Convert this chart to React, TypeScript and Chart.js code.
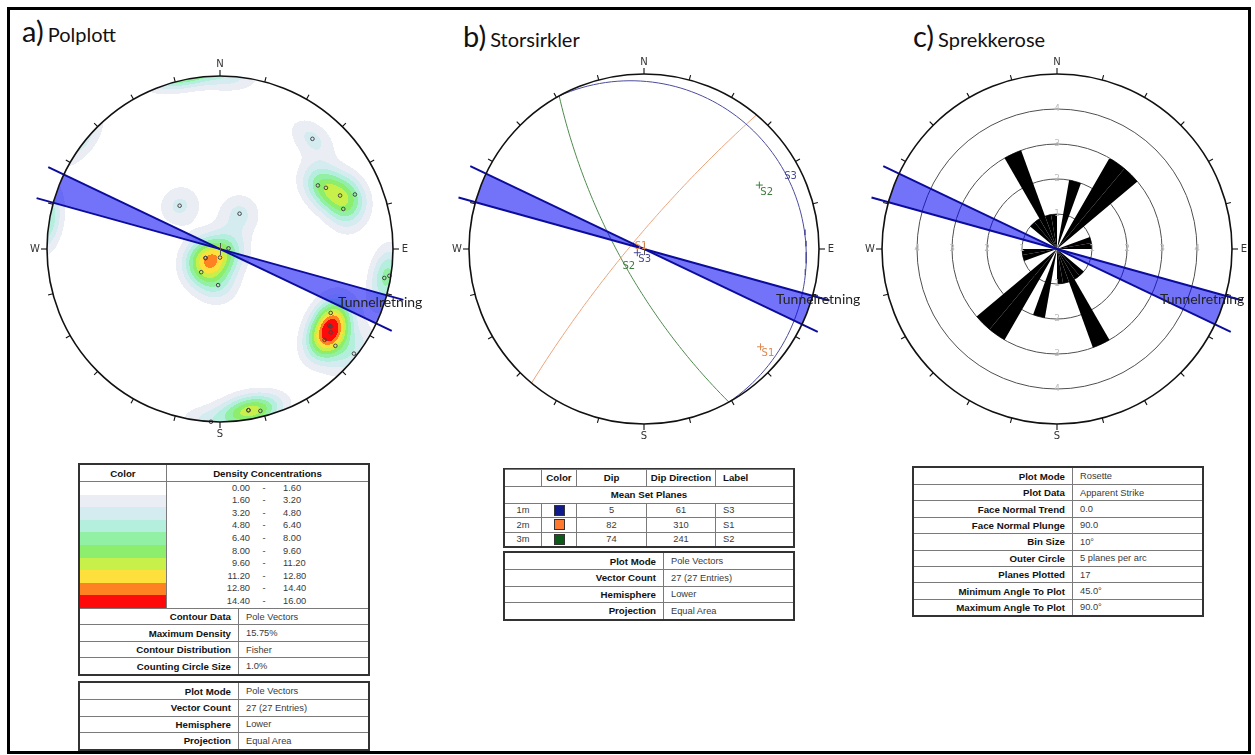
import React, { useEffect, useRef } from 'react';
import { Chart, registerables } from 'chart.js';

Chart.register(...registerables);

const DEG = Math.PI / 180;

// ================= DATA =================
// a) Pole vectors, lower hemisphere (trend / plunge in degrees) – 27 entries
const poleTrend = [40, 57, 60, 66, 68, 72, 317, 29, 86, 180, 238, 238, 219, 183, 100, 99, 120, 125, 131, 130, 128, 127, 125, 170, 166, 170, 183];
const polePlunge = [18, 33, 30, 25, 17, 26, 62, 71, 86, 86, 82, 82, 76, 73, 4, 1, 27, 23, 21, 14, 2, 21, 24, 6, 4, 6, 0];

// Density contour legend (%), ten bands
const densityBounds = [0, 1.6, 3.2, 4.8, 6.4, 8.0, 9.6, 11.2, 12.8, 14.4, 16.0];
const densityLabels = ['0.00', '1.60', '3.20', '4.80', '6.40', '8.00', '9.60', '11.20', '12.80', '14.40', '16.00'];
const densityColors = ['#ffffff', '#eaedf3', '#d4ecf0', '#b4efdd', '#92f0a4', '#8cee6c', '#c8f04a', '#fde03c', '#ff8222', '#ff0a0a'];
const fisherK = 70;
const kernelPeak = 3.6;

const contourInfo = [
  ['Contour Data', 'Pole Vectors'],
  ['Maximum Density', '15.75%'],
  ['Contour Distribution', 'Fisher'],
  ['Counting Circle Size', '1.0%'],
];
const plotInfo = [
  ['Plot Mode', 'Pole Vectors'],
  ['Vector Count', '27 (27 Entries)'],
  ['Hemisphere', 'Lower'],
  ['Projection', 'Equal Area'],
];

// b) Mean set planes
const setIds = ['1m', '2m', '3m'];
const setDip = [5, 82, 74];
const setDipDir = [61, 310, 241];
const setLabel = ['S3', 'S1', 'S2'];
const setSwatch = ['#0f1a8c', '#ff7a2e', '#0b5a18'];
const setLine = ['#4b4b9c', '#eca37a', '#4e8a4e'];
const setText = ['#4a4a96', '#e0884f', '#3d7d3d'];

// c) Rose diagram – apparent strike counts per 10° bin (0°–360°)
const roseBins = [0, 2, 0, 3, 3, 0, 0, 1, 1, 0, 0, 0, 0, 1, 1, 3, 1, 1, 0, 2, 0, 3, 3, 0, 0, 1, 1, 0, 0, 0, 0, 1, 1, 3, 1, 1];
const roseBinLabels = ['0', '10', '20', '30', '40', '50', '60', '70', '80', '90', '100', '110', '120', '130', '140', '150', '160', '170',
  '180', '190', '200', '210', '220', '230', '240', '250', '260', '270', '280', '290', '300', '310', '320', '330', '340', '350'];
const roseRings = [1, 2, 3, 4];
const roseOuter = 5;
const roseInfo = [
  ['Plot Mode', 'Rosette'],
  ['Plot Data', 'Apparent Strike'],
  ['Face Normal Trend', '0.0'],
  ['Face Normal Plunge', '90.0'],
  ['Bin Size', '10°'],
  ['Outer Circle', '5 planes per arc'],
  ['Planes Plotted', '17'],
  ['Minimum Angle To Plot', '45.0°'],
  ['Maximum Angle To Plot', '90.0°'],
];

// Tunnel direction wedge (azimuths, degrees)
const tunnelAz = [105.5, 115.5];
const cardinals = ['N', 'E', 'S', 'W'];
const tickStep = 15;

// ================= HELPERS =================
function eqArea(trend: number, plunge: number) {
  const r = Math.SQRT2 * Math.sin(((90 - plunge) * DEG) / 2);
  return { x: r * Math.sin(trend * DEG), y: r * Math.cos(trend * DEG) };
}
function eqAngle(trend: number, plunge: number) {
  const r = Math.tan(((90 - plunge) * DEG) / 2);
  return { x: r * Math.sin(trend * DEG), y: r * Math.cos(trend * DEG) };
}
function lineVec(trend: number, plunge: number) {
  return [Math.cos(plunge * DEG) * Math.sin(trend * DEG), Math.cos(plunge * DEG) * Math.cos(trend * DEG), Math.sin(plunge * DEG)];
}
function greatCircle(dip: number, dipDir: number) {
  const sv = [Math.sin((dipDir - 90) * DEG), Math.cos((dipDir - 90) * DEG), 0];
  const dv = lineVec(dipDir, dip);
  const pts: { x: number; y: number }[] = [];
  for (let a = 0; a <= 180; a += 2) {
    const c = Math.cos(a * DEG), s = Math.sin(a * DEG);
    const v = [c * sv[0] + s * dv[0], c * sv[1] + s * dv[1], c * sv[2] + s * dv[2]];
    const pl = Math.asin(Math.max(-1, Math.min(1, v[2]))) / DEG;
    const tr = Math.atan2(v[0], v[1]) / DEG;
    pts.push(eqAngle(tr, pl));
  }
  return pts;
}
function hexRgb(h: string) {
  return [parseInt(h.slice(1, 3), 16), parseInt(h.slice(3, 5), 16), parseInt(h.slice(5, 7), 16)];
}

function geom(chart: any) {
  if (chart.scales.r) {
    const s = chart.scales.r;
    return { cx: s.xCenter, cy: s.yCenter, R: s.getDistanceFromCenterForValue(roseOuter) };
  }
  const x = chart.scales.x, y = chart.scales.y;
  const cx = x.getPixelForValue(0), cy = y.getPixelForValue(0);
  return { cx, cy, R: x.getPixelForValue(1) - cx };
}

function drawFrame(ctx: CanvasRenderingContext2D, cx: number, cy: number, R: number) {
  ctx.save();
  ctx.strokeStyle = '#111';
  ctx.lineWidth = 1.6;
  ctx.beginPath();
  ctx.arc(cx, cy, R, 0, Math.PI * 2);
  ctx.stroke();
  ctx.lineWidth = 1.1;
  for (let a = 0; a < 360; a += tickStep) {
    const s = Math.sin(a * DEG), c = Math.cos(a * DEG);
    const len = a % 90 === 0 ? 6 : 5;
    ctx.beginPath();
    ctx.moveTo(cx + s * R, cy - c * R);
    ctx.lineTo(cx + s * (R + len), cy - c * (R + len));
    ctx.stroke();
  }
  ctx.fillStyle = '#333';
  ctx.font = '10px "DejaVu Sans", sans-serif';
  ctx.textAlign = 'center';
  ctx.textBaseline = 'middle';
  cardinals.forEach((lab, i) => {
    const a = i * 90 * DEG;
    const d = R + 12;
    ctx.fillText(lab, cx + Math.sin(a) * d, cy - Math.cos(a) * d + 0.5);
  });
  ctx.restore();
}

function drawWedge(ctx: CanvasRenderingContext2D, cx: number, cy: number, R: number, lx: number, ly: number) {
  ctx.save();
  ctx.fillStyle = 'rgba(0,0,245,0.55)';
  for (const base of [0, 180]) {
    ctx.beginPath();
    ctx.moveTo(cx, cy);
    ctx.arc(cx, cy, R, (tunnelAz[0] + base - 90) * DEG, (tunnelAz[1] + base - 90) * DEG);
    ctx.closePath();
    ctx.fill();
  }
  ctx.strokeStyle = '#0c0c9c';
  ctx.lineWidth = 2;
  const L = R * 1.1;
  for (const az of tunnelAz) {
    const s = Math.sin(az * DEG), c = Math.cos(az * DEG);
    ctx.beginPath();
    ctx.moveTo(cx - s * L, cy + c * L);
    ctx.lineTo(cx + s * L, cy - c * L);
    ctx.stroke();
  }
  ctx.fillStyle = '#222';
  ctx.font = '14px Lato, "Open Sans", sans-serif';
  ctx.textAlign = 'left';
  ctx.textBaseline = 'middle';
  ctx.fillText('Tunnelretning', cx + lx, cy + ly);
  ctx.restore();
}

function centerMark(ctx: CanvasRenderingContext2D, cx: number, cy: number) {
  ctx.save();
  ctx.strokeStyle = '#555';
  ctx.lineWidth = 1;
  ctx.beginPath();
  ctx.moveTo(cx + 0.5, cy - 6);
  ctx.lineTo(cx + 0.5, cy + 6);
  ctx.stroke();
  ctx.restore();
}

// ================= PLUGINS =================
const densityPlugin = {
  id: 'density',
  beforeDatasetsDraw(chart: any) {
    const { ctx } = chart;
    const { cx, cy, R } = geom(chart);
    const vecs = poleTrend.map((t, i) => lineVec(t, polePlunge[i]));
    const size = Math.ceil(2 * R) + 4;
    const x0 = Math.floor(cx - R) - 2, y0 = Math.floor(cy - R) - 2;
    const off = document.createElement('canvas');
    off.width = size;
    off.height = size;
    const octx = off.getContext('2d')!;
    const img = octx.createImageData(size, size);
    const rgb = densityColors.map(hexRgb);
    for (let j = 0; j < size; j++) {
      for (let i = 0; i < size; i++) {
        const X = (x0 + i + 0.5 - cx) / R, Y = (cy - (y0 + j + 0.5)) / R;
        const r = Math.hypot(X, Y);
        if (r > 1) continue;
        const th = 2 * Math.asin(r / Math.SQRT2);
        const tr = Math.atan2(X, Y);
        const v0 = Math.sin(th) * Math.sin(tr), v1 = Math.sin(th) * Math.cos(tr), v2 = Math.cos(th);
        let s = 0;
        for (const p of vecs) {
          const d = Math.abs(v0 * p[0] + v1 * p[1] + v2 * p[2]);
          s += Math.exp(fisherK * (d - 1));
        }
        const dens = s * kernelPeak;
        let b = 0;
        while (b < densityBounds.length - 2 && dens >= densityBounds[b + 1]) b++;
        if (b === 0) continue;
        const k = (j * size + i) * 4;
        img.data[k] = rgb[b][0];
        img.data[k + 1] = rgb[b][1];
        img.data[k + 2] = rgb[b][2];
        img.data[k + 3] = 255;
      }
    }
    octx.putImageData(img, 0, 0);
    ctx.drawImage(off, x0, y0);
  },
};

function overlayPlugin(label: [number, number], mark: boolean) {
  return {
    id: 'overlay',
    afterDatasetsDraw(chart: any) {
      const { ctx } = chart;
      const { cx, cy, R } = geom(chart);
      if (chart.scales.r) {
        const s = chart.scales.r;
        ctx.save();
        ctx.fillStyle = '#bdbdbd';
        ctx.font = '9px "DejaVu Sans", sans-serif';
        ctx.textAlign = 'center';
        ctx.textBaseline = 'middle';
        for (const v of roseRings) {
          const d = s.getDistanceFromCenterForValue(v);
          ctx.fillText(String(v), cx, cy - d);
          ctx.fillText(String(v), cx, cy + d);
          ctx.fillText(String(v), cx + d, cy);
          ctx.fillText(String(v), cx - d, cy);
        }
        ctx.restore();
      }
      drawWedge(ctx, cx, cy, R, label[0], label[1]);
      drawFrame(ctx, cx, cy, R);
      if (mark) centerMark(ctx, cx, cy);
    },
  };
}

const setLabelPlugin = {
  id: 'setLabels',
  afterDraw(chart: any) {
    const { ctx } = chart;
    const xs = chart.scales.x, ys = chart.scales.y;
    ctx.save();
    ctx.font = '10px "DejaVu Sans", sans-serif';
    ctx.textAlign = 'left';
    ctx.textBaseline = 'top';
    setDip.forEach((dip, i) => {
      const pole = eqAngle(setDipDir[i] + 180, 90 - dip);
      const dp = eqAngle(setDipDir[i], dip);
      ctx.fillStyle = setText[i];
      ctx.fillText(setLabel[i], xs.getPixelForValue(pole.x) + 1, ys.getPixelForValue(pole.y) + 2);
      ctx.fillText(setLabel[i], xs.getPixelForValue(dp.x), ys.getPixelForValue(dp.y));
    });
    ctx.restore();
  },
};

// ================= CHART CONFIGS =================
const CW = 470, CH = 430, OFF = 215;

function baseOptions(R: number) {
  return {
    responsive: false,
    animation: false,
    devicePixelRatio: 1,
    events: [],
    layout: { padding: { left: OFF - R, right: CW - OFF - R, top: OFF - R, bottom: CH - OFF - R } },
    plugins: { legend: { display: false }, tooltip: { enabled: false } },
  };
}
const unitScales = {
  x: { type: 'linear', min: -1, max: 1, display: false },
  y: { type: 'linear', min: -1, max: 1, display: false },
};

function configA(R: number) {
  return {
    type: 'scatter',
    data: {
      datasets: [{
        data: poleTrend.map((t, i) => eqArea(t, polePlunge[i])),
        pointRadius: 1.8,
        pointBorderWidth: 1,
        pointBorderColor: '#444',
        pointBackgroundColor: 'rgba(255,255,255,0)',
        clip: false,
      }],
    },
    options: { ...baseOptions(R), scales: unitScales },
    plugins: [densityPlugin, overlayPlugin([118, 53], true)],
  };
}

function configB(R: number) {
  return {
    type: 'scatter',
    data: {
      datasets: [
        ...setDip.map((d, i) => ({
          data: greatCircle(d, setDipDir[i]),
          showLine: true,
          borderColor: setLine[i],
          borderWidth: 1,
          pointRadius: 0,
          clip: false,
        })),
        {
          data: setDip.map((d, i) => eqAngle(setDipDir[i] + 180, 90 - d)),
          pointStyle: 'cross',
          pointRadius: 3.5,
          pointBorderWidth: 1,
          pointBorderColor: setText,
          showLine: false,
          clip: false,
        },
      ],
    },
    options: { ...baseOptions(R), scales: unitScales },
    plugins: [overlayPlugin([132, 50], true), setLabelPlugin],
  };
}

function configC(R: number) {
  return {
    type: 'polarArea',
    data: {
      labels: roseBinLabels,
      datasets: [{ data: roseBins, backgroundColor: '#000', borderWidth: 0 }],
    },
    options: {
      ...baseOptions(R),
      scales: {
        r: {
          min: 0,
          max: roseOuter,
          ticks: { display: false, stepSize: 1 },
          grid: {
            circular: true,
            lineWidth: 1,
            color: (c: any) => (c.tick && c.tick.value >= roseOuter ? 'rgba(0,0,0,0)' : '#505050'),
          },
          angleLines: { display: false },
          pointLabels: { display: false },
        },
      },
    },
    plugins: [overlayPlugin([103, 50], false)],
  };
}

function ChartPanel({ cx, cy, R, make }: { cx: number; cy: number; R: number; make: (R: number) => any }) {
  const ref = useRef<HTMLCanvasElement>(null);
  useEffect(() => {
    const chart = new Chart(ref.current as HTMLCanvasElement, make(R) as any);
    return () => chart.destroy();
  }, []);
  return (
    <canvas
      ref={ref}
      width={CW}
      height={CH}
      style={{ position: 'absolute', left: cx - OFF, top: cy - OFF, width: CW, height: CH }}
    />
  );
}

// ================= TABLES =================
const tFont = '"Liberation Sans", Arial, sans-serif';
const bold: React.CSSProperties = { fontFamily: tFont, fontWeight: 700, fontSize: 9.7, color: '#111' };
const reg: React.CSSProperties = { fontFamily: tFont, fontSize: 9.3, color: '#3a3a3a' };
const LINE = '1px solid #7a7a7a';

function Box({ left, top, children }: { left: number; top: number; children: any }) {
  return (
    <div style={{ position: 'absolute', left, top, width: 292, border: '2px solid #333', boxSizing: 'border-box', background: '#fff' }}>
      {children}
    </div>
  );
}

function KVRows({ rows, heights, first }: { rows: string[][]; heights: number[]; first: boolean }) {
  return (
    <>
      {rows.map(([k, v], i) => (
        <div key={k} style={{ display: 'flex', height: heights[i], borderTop: i === 0 && first ? 'none' : LINE, boxSizing: 'border-box' }}>
          <div style={{ ...bold, width: 159, boxSizing: 'border-box', borderRight: LINE, paddingRight: 7, display: 'flex', alignItems: 'center', justifyContent: 'flex-end', whiteSpace: 'nowrap' }}>{k}</div>
          <div style={{ ...reg, flex: 1, paddingLeft: 7, display: 'flex', alignItems: 'center', whiteSpace: 'nowrap' }}>{v}</div>
        </div>
      ))}
    </>
  );
}

const cellC: React.CSSProperties = { display: 'flex', alignItems: 'center', justifyContent: 'center', boxSizing: 'border-box', height: '100%', whiteSpace: 'nowrap' };
const setCols = [37, 35, 70, 69];

function SetRow({ cells, h, header }: { cells: any[]; h: number; header?: boolean }) {
  const st = header ? bold : reg;
  return (
    <div style={{ display: 'flex', height: h, borderTop: LINE, boxSizing: 'border-box' }}>
      {setCols.map((w, i) => (
        <div key={i} style={{ ...st, ...cellC, width: w, borderRight: LINE }}>{cells[i]}</div>
      ))}
      <div style={{ ...st, ...cellC, flex: 1, justifyContent: 'flex-start', paddingLeft: 7 }}>{cells[4]}</div>
    </div>
  );
}

function Title({ left, top, letter, text }: { left: number; top: number; letter: string; text: string }) {
  return (
    <div style={{ position: 'absolute', left, top, display: 'flex', alignItems: 'baseline', fontFamily: 'Lato, "Open Sans", sans-serif', color: '#111', lineHeight: 1, whiteSpace: 'nowrap' }}>
      <span style={{ fontSize: 29 }}>{letter}</span>
      <span style={{ fontSize: 20, marginLeft: 4 }}>{text}</span>
    </div>
  );
}

export default function App() {
  return (
    <div style={{ position: 'fixed', left: 0, top: 0, width: 1255, height: 755, overflow: 'hidden', background: '#fff' }}>
      <div style={{ position: 'absolute', left: 7, top: 7, width: 1244, height: 747, border: '3px solid #000', boxSizing: 'border-box' }} />

      <Title left={22} top={16} letter="a)" text="Polplott" />
      <Title left={463} top={21} letter="b)" text="Storsirkler" />
      <Title left={913} top={21} letter="c)" text="Sprekkerose" />

      <ChartPanel cx={220} cy={249} R={173} make={configA} />
      <ChartPanel cx={644} cy={249} R={175} make={configB} />
      <ChartPanel cx={1057} cy={249} R={175} make={configC} />

      {/* a) tables */}
      <Box left={78} top={463}>
        <div style={{ display: 'flex', height: 16 }}>
          <div style={{ ...bold, ...cellC, width: 87, borderRight: LINE }}>Color</div>
          <div style={{ ...bold, ...cellC, flex: 1 }}>Density Concentrations</div>
        </div>
        <div style={{ borderTop: LINE }}>
          {densityColors.map((c, i) => (
            <div key={i} style={{ display: 'flex', height: 12.6 }}>
              <div style={{ width: 87, borderRight: LINE, boxSizing: 'border-box', background: c }} />
              <div style={{ ...reg, display: 'flex', alignItems: 'center', lineHeight: 1 }}>
                <span style={{ width: 83, textAlign: 'right', display: 'inline-block' }}>{densityLabels[i]}</span>
                <span style={{ width: 28, textAlign: 'center', display: 'inline-block' }}>-</span>
                <span style={{ paddingLeft: 5 }}>{densityLabels[i + 1]}</span>
              </div>
            </div>
          ))}
        </div>
        <KVRows rows={contourInfo} heights={[16.5, 16.5, 16.5, 16.5]} first={false} />
      </Box>
      <Box left={78} top={681}>
        <KVRows rows={plotInfo} heights={[16, 16.5, 16.5, 16.5]} first={true} />
      </Box>

      {/* b) tables */}
      <Box left={503} top={468}>
        <div style={{ marginTop: -1 }}>
          <SetRow header h={16.5} cells={['', 'Color', 'Dip', 'Dip Direction', 'Label']} />
        </div>
        <div style={{ ...bold, ...cellC, height: 17, borderTop: LINE }}>Mean Set Planes</div>
        {setIds.map((id, i) => (
          <SetRow
            key={id}
            h={14.5}
            cells={[
              id,
              <div style={{ width: 11, height: 11, background: setSwatch[i], border: '1px solid #333', boxSizing: 'border-box' }} />,
              String(setDip[i]),
              String(setDipDir[i]),
              setLabel[i],
            ]}
          />
        ))}
      </Box>
      <Box left={503} top={551}>
        <KVRows rows={plotInfo} heights={[16, 16.5, 16.5, 16.5]} first={true} />
      </Box>

      {/* c) table */}
      <Box left={912} top={466}>
        <KVRows rows={roseInfo} heights={[16, 16.4, 16.4, 16.4, 16.4, 16.4, 16.4, 16.4, 16.4]} first={true} />
      </Box>
    </div>
  );
}
